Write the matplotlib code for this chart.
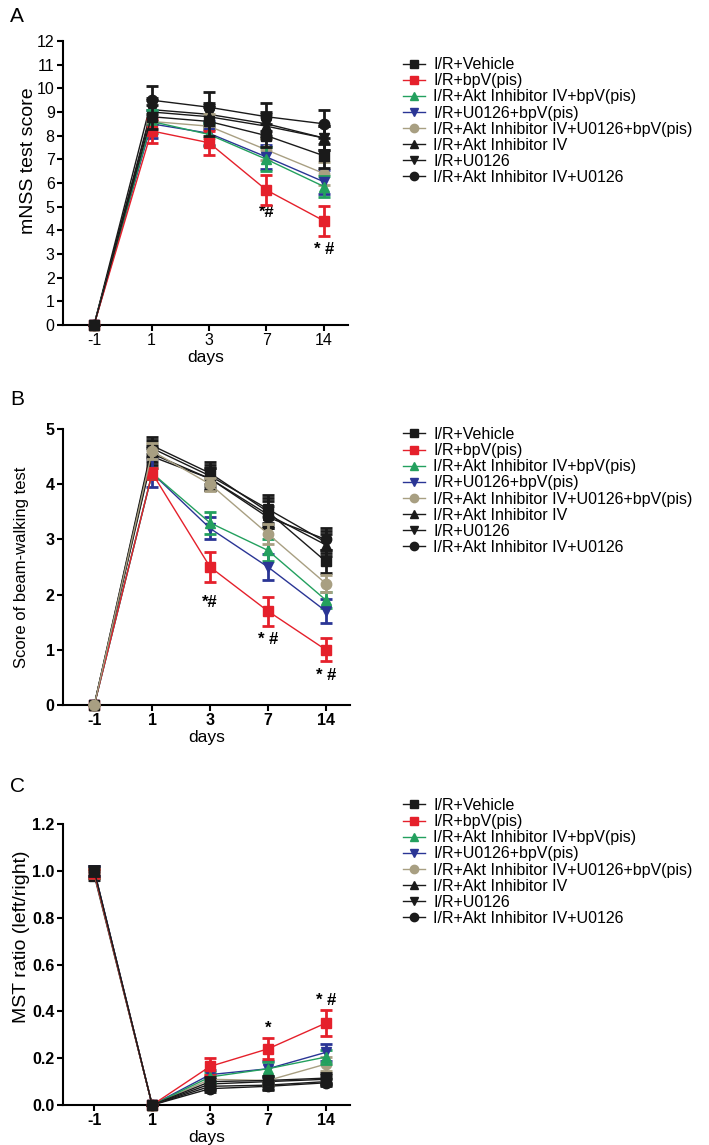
import numpy as np
import matplotlib
matplotlib.use("Agg")
import matplotlib.pyplot as plt
from matplotlib.lines import Line2D

plt.rcParams['font.family'] = ['Liberation Sans', 'DejaVu Sans']

days = ['-1', '1', '3', '7', '14']

groups = ['I/R+Vehicle', 'I/R+bpV(pis)', 'I/R+Akt Inhibitor IV+bpV(pis)',
          'I/R+U0126+bpV(pis)', 'I/R+Akt Inhibitor IV+U0126+bpV(pis)',
          'I/R+Akt Inhibitor IV', 'I/R+U0126', 'I/R+Akt Inhibitor IV+U0126']
colors = ['#1a1a1a', '#e5202b', '#23a05e', '#2a3595', '#a89f82',
          '#1a1a1a', '#1a1a1a', '#1a1a1a']
markers = ['s', 's', '^', 'v', 'o', '^', 'v', 'o']

# panel A - mNSS
mnss = [[0, 8.8, 8.6, 8.0, 7.15],
        [0, 8.2, 7.7, 5.7, 4.4],
        [0, 8.6, 8.05, 7.0, 5.85],
        [0, 8.5, 8.1, 7.1, 6.05],
        [0, 8.6, 8.4, 7.4, 6.4],
        [0, 9.0, 8.8, 8.4, 7.9],
        [0, 9.1, 8.9, 8.5, 7.9],
        [0, 9.5, 9.2, 8.8, 8.5]]
mnss_err = [[0, 0.5, 0.6, 0.5, 0.5],
            [0, 0.5, 0.5, 0.62, 0.62],
            [0, 0.5, 0.5, 0.5, 0.45],
            [0, 0.6, 0.5, 0.5, 0.5],
            [0, 0.5, 0.5, 0.45, 0.5],
            [0, 0.5, 0.5, 0.5, 0.5],
            [0, 0.5, 0.5, 0.5, 0.5],
            [0, 0.6, 0.65, 0.6, 0.6]]

# panel B - beam walking
beam = [[0, 4.7, 4.2, 3.5, 2.6],
        [0, 4.2, 2.5, 1.7, 1.0],
        [0, 4.2, 3.3, 2.8, 1.9],
        [0, 4.2, 3.2, 2.5, 1.7],
        [0, 4.6, 4.0, 3.1, 2.2],
        [0, 4.55, 4.1, 3.45, 2.9],
        [0, 4.65, 4.15, 3.55, 2.95],
        [0, 4.5, 4.1, 3.4, 3.0]]
beam_err = [[0, 0.15, 0.2, 0.25, 0.2],
            [0, 0.1, 0.27, 0.26, 0.21],
            [0, 0.1, 0.2, 0.2, 0.15],
            [0, 0.25, 0.2, 0.23, 0.22],
            [0, 0.15, 0.12, 0.18, 0.15],
            [0, 0.15, 0.2, 0.25, 0.2],
            [0, 0.15, 0.2, 0.25, 0.2],
            [0, 0.15, 0.2, 0.2, 0.2]]

# panel C - MST ratio
mst = [[1.0, 0, 0.10, 0.105, 0.115],
       [0.99, 0, 0.165, 0.24, 0.35],
       [0.99, 0, 0.12, 0.155, 0.205],
       [1.0, 0, 0.13, 0.155, 0.225],
       [0.99, 0, 0.11, 0.105, 0.175],
       [0.98, 0, 0.09, 0.10, 0.11],
       [1.0, 0, 0.08, 0.085, 0.10],
       [0.99, 0, 0.07, 0.08, 0.095]]
mst_err = [[0.02, 0, 0.02, 0.02, 0.02],
           [0.02, 0, 0.035, 0.045, 0.055],
           [0.02, 0, 0.02, 0.03, 0.03],
           [0.02, 0, 0.02, 0.035, 0.035],
           [0.02, 0, 0.02, 0.02, 0.03],
           [0.02, 0, 0.02, 0.02, 0.02],
           [0.02, 0, 0.015, 0.015, 0.015],
           [0.02, 0, 0.015, 0.015, 0.015]]

fig = plt.figure(figsize=(7.09, 11.45), dpi=100)
x = np.arange(len(days))

handles = [Line2D([0], [0], color=colors[i], marker=markers[i], markersize=6, lw=1)
           for i in range(len(groups))]


def draw_panel(rect, means, errs, ymax, ystep, ylabel, ysize, ylab_xy, bold, legend_top, marks,
               letter, letter_y, top):
    ax = fig.add_axes(rect)
    for i in range(len(groups)):
        z = 3 + (len(groups) - i) * 0.1
        if i == top:
            z = 5
        ax.errorbar(x, means[i], yerr=errs[i], color=colors[i], marker=markers[i],
                    markersize=7.5, lw=1, elinewidth=2, capsize=4, capthick=2,
                    clip_on=False, zorder=z)
    ax.set_xlim(-0.54, 4.42)
    ax.set_ylim(0, ymax)
    yt = np.arange(0, ymax + ystep / 2, ystep)
    ax.set_yticks(yt)
    if ystep < 1:
        ax.set_yticklabels([f'{v:.1f}' for v in yt])
    ax.set_xticks(x)
    ax.set_xticklabels(days)
    wt = 'bold' if bold else 'normal'
    for lab in ax.get_xticklabels() + ax.get_yticklabels():
        lab.set_fontweight(wt)
        lab.set_fontsize(11.5)
    ax.spines['top'].set_visible(False)
    ax.spines['right'].set_visible(False)
    for s in ['left', 'bottom']:
        ax.spines[s].set_linewidth(1.5)
    ax.tick_params(width=1.5, length=4, pad=2)
    ax.set_xlabel('days', fontsize=12.5, labelpad=1)
    ax.set_ylabel(ylabel, fontsize=ysize)
    ax.yaxis.set_label_coords(*ylab_xy)
    for (xi, yi, txt) in marks:
        ax.text(xi, yi, txt, ha='center', va='center', fontsize=12, fontweight='bold')
    fig.legend(handles, groups, loc='upper left', bbox_to_anchor=(403 / 709, legend_top),
               frameon=False, fontsize=11.5, handlelength=1.4, handletextpad=0.5,
               labelspacing=0.07, borderpad=0, borderaxespad=0)
    fig.text(10 / 709, letter_y, letter, fontsize=15, va='center', ha='left')
    return ax


draw_panel([0.0889, 0.7162, 0.402, 0.248], mnss, mnss_err, 12, 1, 'mNSS test score', 14,
           (-0.09, 0.58), False, 0.950, [(3, 4.75, '*#'), (4, 3.2, '* #')], 'A',
           1 - 16 / 1145, 0)
draw_panel([0.0889, 0.3843, 0.405, 0.241], beam, beam_err, 5, 1, 'Score of beam-walking test', 12,
           (-0.12, 0.5), True, 0.627, [(2, 1.85, '*#'), (3, 1.18, '* #'), (4, 0.54, '* #')], 'B',
           1 - 400 / 1145, 4)
draw_panel([0.0889, 0.0349, 0.405, 0.2454], mst, mst_err, 1.2, 0.2, 'MST ratio (left/right)', 14,
           (-0.115, 0.6), True, 0.303, [(3, 0.33, '*'), (4, 0.445, '* #')], 'C',
           1 - 786 / 1145, 0)

fig.savefig('out.png', dpi=100)
